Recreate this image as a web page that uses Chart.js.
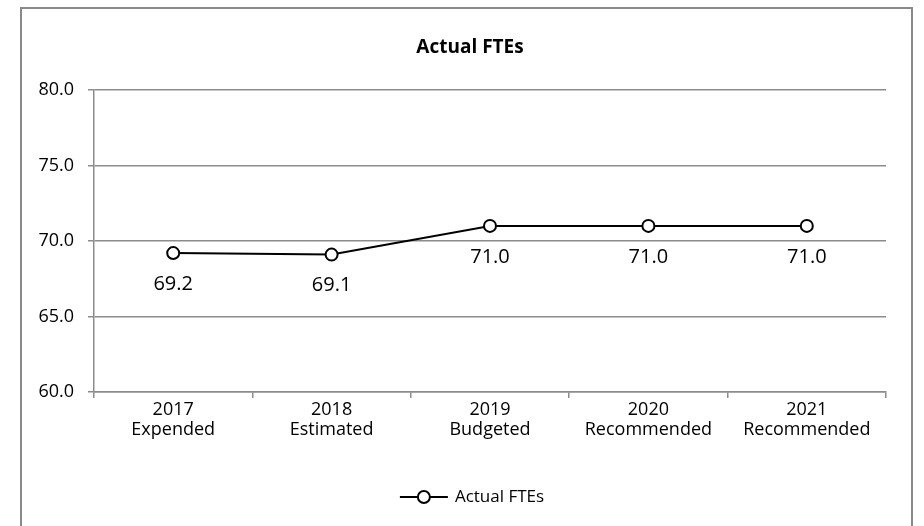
<!DOCTYPE html>
<html>
<head>
<meta charset="utf-8">
<script src="https://cdn.jsdelivr.net/npm/chart.js@4/dist/chart.umd.min.js"></script>
<style>
  html, body { margin: 0; padding: 0; background: #fff; }
  #wrap { width: 924px; height: 526px; position: relative; }
</style>
</head>
<body>
<div id="wrap"><canvas id="fte" width="924" height="526"></canvas></div>
<script>
// chart data
const years = ['2017', '2018', '2019', '2020', '2021'];
const stages = ['Expended', 'Estimated', 'Budgeted', 'Recommended', 'Recommended'];
const fteValues = [69.2, 69.1, 71.0, 71.0, 71.0];
const yTicks = [60, 65, 70, 75, 80];
const seriesName = 'Actual FTEs';

const FONT = "'Open Sans', sans-serif";
const GRID = '#8c8c8c';

// frame round the chart + title, like the spreadsheet chart box
const framePlugin = {
  id: 'frame',
  beforeDraw(chart) {
    const ctx = chart.ctx;
    ctx.save();
    ctx.fillStyle = '#fff';
    ctx.fillRect(0, 0, chart.width, chart.height);
    ctx.strokeStyle = '#898989';
    ctx.lineWidth = 2;
    ctx.beginPath();
    ctx.moveTo(21, chart.height + 5);
    ctx.lineTo(21, 8);
    ctx.lineTo(912, 8);
    ctx.lineTo(912, chart.height + 5);
    ctx.stroke();
    // title centred on the frame
    ctx.font = 'bold 19px ' + FONT;
    ctx.fillStyle = '#000';
    ctx.textAlign = 'center';
    ctx.textBaseline = 'middle';
    ctx.fillText(seriesName, 470, 48);
    ctx.restore();
  }
};

// value labels under each point + the legend line at the bottom
const labelPlugin = {
  id: 'valueLabels',
  afterDatasetsDraw(chart) {
    const ctx = chart.ctx;
    const meta = chart.getDatasetMeta(0);
    const data = chart.data.datasets[0].data;
    ctx.save();
    ctx.font = '20px ' + FONT;
    ctx.fillStyle = '#000';
    ctx.textAlign = 'center';
    ctx.textBaseline = 'middle';
    meta.data.forEach((pt, i) => {
      ctx.fillText(data[i].toFixed(1), pt.x, pt.y + 31);
    });
    ctx.restore();
  },
  afterDraw(chart) {
    const ctx = chart.ctx;
    const ds = chart.data.datasets[0];
    ctx.save();
    ctx.font = '17px ' + FONT;
    const tw = ctx.measureText(ds.label).width;
    const lineW = 48, gap = 7;
    const total = lineW + gap + tw;
    const cx = 472;
    const x0 = cx - total / 2;
    const y = 497;
    ctx.strokeStyle = ds.borderColor;
    ctx.lineWidth = 2;
    ctx.beginPath();
    ctx.moveTo(x0, y);
    ctx.lineTo(x0 + lineW, y);
    ctx.stroke();
    ctx.beginPath();
    ctx.arc(x0 + lineW / 2, y, 6, 0, Math.PI * 2);
    ctx.fillStyle = '#fff';
    ctx.fill();
    ctx.stroke();
    ctx.fillStyle = '#000';
    ctx.textAlign = 'left';
    ctx.textBaseline = 'middle';
    ctx.fillText(ds.label, x0 + lineW + gap, y);
    ctx.restore();
  }
};

new Chart(document.getElementById('fte'), {
  type: 'line',
  data: {
    labels: years.map((y, i) => [y, stages[i]]),
    datasets: [
      {
        label: seriesName,
        data: fteValues,
        borderColor: '#000',
        borderWidth: 2,
        pointRadius: 6,
        pointBorderWidth: 2,
        pointBackgroundColor: '#fff',
        pointBorderColor: '#000',
        tension: 0,
      },
    ],
  },
  options: {
    responsive: false,
    animation: false,
    devicePixelRatio: 1,
    layout: { padding: { left: 0, right: 38, top: 90, bottom: 0 } },
    plugins: {
      legend: { display: false },
      tooltip: { enabled: false },
      title: { display: false },
    },
    scales: {
      x: {
        offset: true,
        afterFit: (s) => { s.height = 134; },
        grid: {
          offset: true,
          drawOnChartArea: false,
          drawTicks: true,
          tickLength: 6,
          tickColor: GRID,
          lineWidth: 1.5,
        },
        border: { display: true, color: GRID, width: 1.5 },
        ticks: {
          color: '#000',
          padding: 2,
          maxRotation: 0,
          autoSkip: false,
          font: { family: FONT, size: 18, lineHeight: 1.1 },
        },
      },
      y: {
        min: yTicks[0],
        max: yTicks[yTicks.length - 1],
        afterFit: (s) => { s.width = 94; },
        afterBuildTicks: (s) => { s.ticks = yTicks.map(v => ({ value: v })); },
        grid: {
          color: GRID,
          lineWidth: 1.5,
          drawTicks: true,
          tickLength: 6,
          tickColor: GRID,
        },
        border: { display: true, color: GRID, width: 1.5 },
        ticks: {
          color: '#000',
          padding: 14,
          font: { family: FONT, size: 18 },
          callback: (v) => Number(v).toFixed(1),
        },
      },
    },
  },
  plugins: [framePlugin, labelPlugin],
});
</script>
</body>
</html>
